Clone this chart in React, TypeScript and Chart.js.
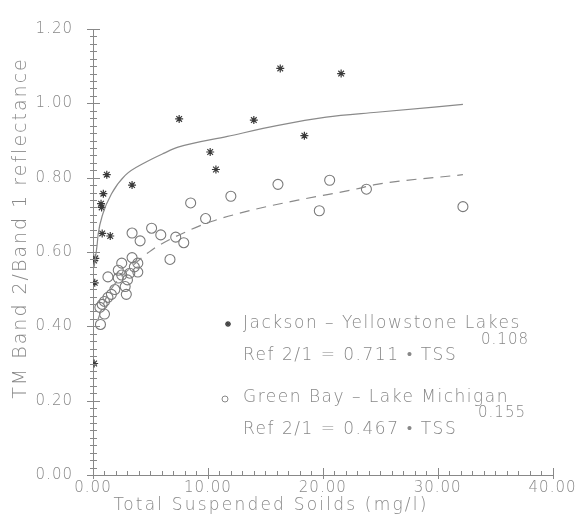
import React, { useEffect, useRef } from "react";
import { Chart, registerables } from "chart.js";

Chart.register(...registerables);

// ---- Data ----
const jacksonTSS = [0.1, 0.15, 0.1, 0.2, 0.7, 0.75, 0.8, 0.9, 1.2, 1.5, 3.4, 7.5, 10.2, 10.7, 14.0, 16.3, 18.4, 21.6];
const jacksonRatio = [0.3, 0.517, 0.577, 0.583, 0.73, 0.72, 0.65, 0.757, 0.808, 0.643, 0.78, 0.958, 0.869, 0.822, 0.955, 1.094, 0.913, 1.08];

const greenBayTSS = [0.65, 1.0, 0.6, 0.8, 1.0, 1.3, 1.6, 2.9, 1.9, 2.8, 3.0, 2.2, 1.3, 2.5, 3.2, 3.9, 2.2, 3.6, 2.5, 3.4, 3.9, 6.7, 3.4, 4.1, 5.1, 5.9, 7.2, 7.9, 8.5, 9.8, 12.0, 16.1, 19.7, 20.6, 23.8, 32.2];
const greenBayRatio = [0.405, 0.433, 0.451, 0.459, 0.467, 0.478, 0.486, 0.486, 0.499, 0.507, 0.525, 0.53, 0.533, 0.538, 0.543, 0.546, 0.551, 0.56, 0.57, 0.585, 0.57, 0.58, 0.651, 0.63, 0.664, 0.646, 0.64, 0.625, 0.732, 0.69, 0.75, 0.782, 0.711, 0.793, 0.769, 0.722];

// fitted curves
const jacksonFitTSS = [0.1, 0.35, 0.45, 0.86, 1.6, 2.8, 4.5, 6.2, 7.4, 11.7, 16.0, 20.3, 24.7, 32.2];
const jacksonFitRatio = [0.56, 0.617, 0.648, 0.703, 0.756, 0.806, 0.84, 0.866, 0.882, 0.911, 0.94, 0.963, 0.976, 0.997];

const greenBayFitTSS = [0.4, 1.0, 2.0, 3.0, 5.1, 8.5, 10.3, 14.0, 18.4, 22.7, 24.7, 32.2];
const greenBayFitRatio = [0.415, 0.467, 0.518, 0.55, 0.605, 0.66, 0.682, 0.714, 0.743, 0.768, 0.782, 0.808];

const xMin = 0;
const xMax = 40;
const xMajorStep = 10;
const xMinorStep = 1;
const yMin = 0;
const yMax = 1.2;
const yMajorStep = 0.2;
const yMinorStep = 0.02;

const xAxisTitle = "Total Suspended Soilds (mg/l)";
const yAxisTitle = "TM Band 2/Band 1 reflectance";
const jacksonLabel = "Jackson – Yellowstone Lakes";
const jacksonExp = "0.108";
const jacksonEq = "Ref 2/1 = 0.711 • TSS";
const greenBayLabel = "Green Bay – Lake Michigan";
const greenBayExp = "0.155";
const greenBayEq = "Ref 2/1 = 0.467 • TSS";

const GRAY = "#888888";
const FONT = "DejaVu Sans";
const WEIGHT = "200";

const toPoints = (xs: number[], ys: number[]) => xs.map((x, i) => ({ x, y: ys[i] }));

function drawStar(ctx: CanvasRenderingContext2D, x: number, y: number, r: number) {
  ctx.beginPath();
  ctx.moveTo(x - r, y);
  ctx.lineTo(x + r, y);
  ctx.moveTo(x, y - r);
  ctx.lineTo(x, y + r);
  const d = r * 0.7;
  ctx.moveTo(x - d, y - d);
  ctx.lineTo(x + d, y + d);
  ctx.moveTo(x - d, y + d);
  ctx.lineTo(x + d, y - d);
  ctx.stroke();
}

const spacingPlugin = {
  id: "spacing",
  beforeDraw(chart: any) {
    (chart.ctx as any).letterSpacing = "1px";
  },
};

const decorPlugin = {
  id: "decor",
  afterDraw(chart: any) {
    const ctx: CanvasRenderingContext2D = chart.ctx;
    const xs = chart.scales.x;
    const ys = chart.scales.y;
    const x0 = xs.getPixelForValue(xMin);
    const y0 = ys.getPixelForValue(yMin);
    ctx.save();
    ctx.strokeStyle = GRAY;
    ctx.lineWidth = 1;
    // y ticks
    const nY = Math.round((yMax - yMin) / yMinorStep);
    for (let i = 0; i <= nY; i++) {
      const v = yMin + i * yMinorStep;
      const py = Math.round(ys.getPixelForValue(v)) + 0.5;
      const major = i % Math.round(yMajorStep / yMinorStep) === 0;
      ctx.beginPath();
      ctx.moveTo(x0 - (major ? 6 : 3), py);
      ctx.lineTo(x0 + (major ? 7 : 4), py);
      ctx.stroke();
    }
    // x ticks
    const nX = Math.round((xMax - xMin) / xMinorStep);
    for (let i = 0; i <= nX; i++) {
      const v = xMin + i * xMinorStep;
      const px = Math.round(xs.getPixelForValue(v)) + 0.5;
      const major = i % Math.round(xMajorStep / xMinorStep) === 0;
      ctx.beginPath();
      ctx.moveTo(px, y0 - (major ? 7 : 4));
      ctx.lineTo(px, y0 + (major ? 4 : 1));
      ctx.stroke();
    }
    // axis titles
    ctx.fillStyle = GRAY;
    (ctx as any).letterSpacing = "2.2px";
    ctx.font = `${WEIGHT} 17px "${FONT}"`;
    ctx.textAlign = "center";
    ctx.textBaseline = "middle";
    ctx.fillText(xAxisTitle, 271, 506);
    ctx.save();
    (ctx as any).letterSpacing = "2px";
    ctx.font = `${WEIGHT} 19px "${FONT}"`;
    ctx.translate(21, 228);
    ctx.rotate(-Math.PI / 2);
    ctx.fillText(yAxisTitle, 0, 0);
    ctx.restore();

    // legend
    (ctx as any).letterSpacing = "1.5px";
    ctx.font = `${WEIGHT} 17px "${FONT}"`;
    ctx.textAlign = "left";
    ctx.fillText(jacksonLabel, 243, 324);
    ctx.fillText(jacksonEq, 243, 356);
    ctx.fillText(greenBayLabel, 243, 398);
    ctx.fillText(greenBayEq, 243, 430);
    (ctx as any).letterSpacing = "1px";
    ctx.font = `${WEIGHT} 15px "${FONT}"`;
    ctx.textAlign = "right";
    ctx.fillText(jacksonExp, 529, 340);
    ctx.fillText(greenBayExp, 526, 413);
    // legend symbols
    ctx.strokeStyle = "#444";
    ctx.lineWidth = 1.3;
    drawStar(ctx, 228, 324, 3);
    ctx.strokeStyle = GRAY;
    ctx.lineWidth = 1;
    ctx.beginPath();
    ctx.arc(225, 399, 3, 0, Math.PI * 2);
    ctx.stroke();
    ctx.restore();
  },
};

export default function App() {
  const ref = useRef<HTMLCanvasElement | null>(null);
  useEffect(() => {
    if (!ref.current) return;
    const chart = new Chart(ref.current, {
      type: "scatter",
      data: {
        datasets: [
          {
            label: "Jackson fit",
            data: toPoints(jacksonFitTSS, jacksonFitRatio),
            showLine: true,
            borderColor: "#8a8a8a",
            borderWidth: 1.2,
            pointRadius: 0,
            cubicInterpolationMode: "monotone",
          } as any,
          {
            label: "Green Bay fit",
            data: toPoints(greenBayFitTSS, greenBayFitRatio),
            showLine: true,
            borderColor: "#8a8a8a",
            borderWidth: 1.2,
            borderDash: [10, 7],
            pointRadius: 0,
            cubicInterpolationMode: "monotone",
          } as any,
          {
            label: "Jackson - Yellowstone Lakes",
            data: toPoints(jacksonTSS, jacksonRatio),
            pointStyle: "star",
            pointRadius: 4,
            borderColor: "#3a3a3a",
            backgroundColor: "#3a3a3a",
            pointBorderWidth: 1.2,
          } as any,
          {
            label: "Green Bay - Lake Michigan",
            data: toPoints(greenBayTSS, greenBayRatio),
            pointStyle: "circle",
            pointRadius: 5,
            borderColor: "#7a7a7a",
            backgroundColor: "rgba(0,0,0,0)",
            pointBorderWidth: 1.1,
          } as any,
        ],
      },
      options: {
        responsive: false,
        animation: false,
        devicePixelRatio: 1,
        layout: { padding: { left: 0, right: 25, top: 18, bottom: 0 } },
        plugins: {
          legend: { display: false },
          tooltip: { enabled: false },
        },
        scales: {
          x: {
            type: "linear",
            min: xMin,
            max: xMax,
            afterFit: (s: any) => {
              s.height = 48;
            },
            afterBuildTicks: (s: any) => {
              const t = [];
              for (let v = xMin; v <= xMax + 1e-9; v += xMajorStep) t.push({ value: v });
              s.ticks = t;
            },
            ticks: {
              color: GRAY,
              font: { family: FONT, size: 15, weight: WEIGHT },
              padding: 4,
              maxRotation: 0,
              autoSkip: false,
              callback: (v: any) => Number(v).toFixed(2),
            },
            grid: { display: false, drawTicks: false },
            border: { display: true, color: GRAY, width: 1 },
          },
          y: {
            type: "linear",
            min: yMin,
            max: yMax,
            afterFit: (s: any) => {
              s.width = 93;
            },
            afterBuildTicks: (s: any) => {
              const t = [];
              for (let i = 0; i <= Math.round((yMax - yMin) / yMajorStep); i++) t.push({ value: yMin + i * yMajorStep });
              s.ticks = t;
            },
            ticks: {
              color: GRAY,
              font: { family: FONT, size: 15, weight: WEIGHT },
              padding: 20,
              autoSkip: false,
              callback: (v: any) => Number(v).toFixed(2),
            },
            grid: { display: false, drawTicks: false },
            border: { display: true, color: GRAY, width: 1 },
          },
        },
      },
      plugins: [spacingPlugin, decorPlugin],
    });
    return () => chart.destroy();
  }, []);
  return (
    <div style={{ position: "absolute", left: 0, top: 0, width: 578, height: 523, background: "#fff" }}>
      <canvas ref={ref} width={578} height={523} />
    </div>
  );
}
